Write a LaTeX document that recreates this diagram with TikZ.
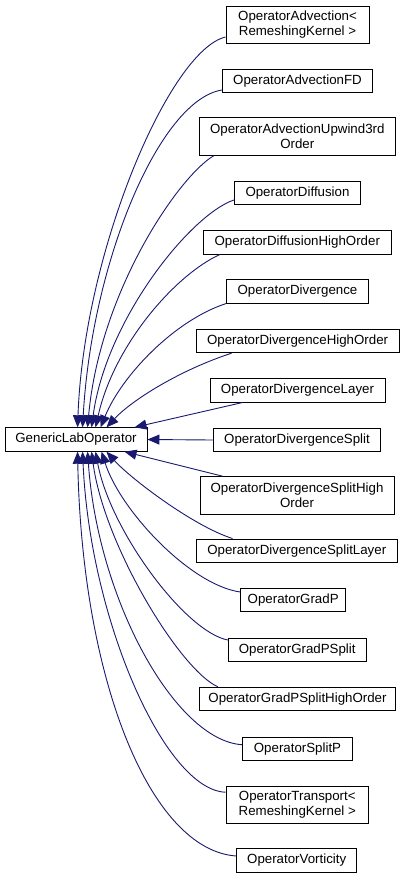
\documentclass[tikz,border=0pt]{standalone}
\usepackage{fontspec}
\setmainfont{Liberation Sans}
\usetikzlibrary{arrows.meta,calc}
\definecolor{edgeblue}{RGB}{25,25,112}
\begin{document}
\begin{tikzpicture}[x=1pt,y=-1pt,
  cls/.style={draw=black,line width=0.9pt,fill=white,inner sep=0pt,align=center,
    font=\fontsize{13.3}{15}\selectfont},
  edge/.style={draw=edgeblue,line width=0.9pt,-{Triangle[length=12pt,width=10pt,fill=edgeblue]}}]
\useasboundingbox (0,0) rectangle (404,879);
% base node
\node[cls,minimum width=142pt,minimum height=23.5pt] (G) at (76,439.5) {GenericLabOperator};
% derived nodes
\node[cls,minimum width=143pt,minimum height=37pt] (n1) at (297.5,24.5) {OperatorAdvection<\\ RemeshingKernel >};
\node[cls,minimum width=150.4pt,minimum height=23.5pt] (n2) at (297.5,81) {OperatorAdvectionFD};
\node[cls,minimum width=196pt,minimum height=37.5pt] (n3) at (297.3,136.5) {OperatorAdvectionUpwind3rd\\Order};
\node[cls,minimum width=126.4pt,minimum height=23.5pt] (n4) at (297.5,193) {OperatorDiffusion};
\node[cls,minimum width=188pt,minimum height=23.5pt] (n5) at (297.3,242.3) {OperatorDiffusionHighOrder};
\node[cls,minimum width=141.6pt,minimum height=23.5pt] (n6) at (297.5,291.3) {OperatorDivergence};
\node[cls,minimum width=203.3pt,minimum height=23.5pt] (n7) at (297.6,341) {OperatorDivergenceHighOrder};
\node[cls,minimum width=175pt,minimum height=23.5pt] (n8) at (297.5,390.3) {OperatorDivergenceLayer};
\node[cls,minimum width=167.4pt,minimum height=23.5pt] (n9) at (297,440) {OperatorDivergenceSplit};
\node[cls,minimum width=194pt,minimum height=37.3pt] (n10) at (297,495.3) {OperatorDivergenceSplitHigh\\Order};
\node[cls,minimum width=201.7pt,minimum height=23.5pt] (n11) at (296.8,550.7) {OperatorDivergenceSplitLayer};
\node[cls,minimum width=105pt,minimum height=23.5pt] (n12) at (293.2,600) {OperatorGradP};
\node[cls,minimum width=137.7pt,minimum height=23.5pt] (n13) at (297.2,650) {OperatorGradPSplit};
\node[cls,minimum width=196.4pt,minimum height=23.5pt] (n14) at (297.5,699) {OperatorGradPSplitHighOrder};
\node[cls,minimum width=110.4pt,minimum height=23.5pt] (n15) at (297.5,748.7) {OperatorSplitP};
\node[cls,minimum width=142.7pt,minimum height=37.3pt] (n16) at (297.3,804.7) {OperatorTransport<\\ RemeshingKernel >};
\node[cls,minimum width=120pt,minimum height=23.5pt] (n17) at (296.7,860.5) {OperatorVorticity};
% arrow tips on the base node
\coordinate (t1) at ($(G.north west)+(73,0)$);
\coordinate (t2) at ($(G.north west)+(78,0)$);
\coordinate (t3) at ($(G.north west)+(83,0)$);
\coordinate (t4) at ($(G.north west)+(87,0)$);
\coordinate (t5) at ($(G.north west)+(91,0)$);
\coordinate (t6) at ($(G.north west)+(96,0)$);
\coordinate (t7) at ($(G.north west)+(102,0)$);
\coordinate (t8) at ($(G.north west)+(130,0)$);
\coordinate (b10) at ($(G.south west)+(120,0)$);
\coordinate (b11) at ($(G.south west)+(102,0)$);
\coordinate (b12) at ($(G.south west)+(97,0)$);
\coordinate (b13) at ($(G.south west)+(91,0)$);
\coordinate (b14) at ($(G.south west)+(87,0)$);
\coordinate (b15) at ($(G.south west)+(83,0)$);
\coordinate (b16) at ($(G.south west)+(78,0)$);
\coordinate (b17) at ($(G.south west)+(73,0)$);
% edges
\draw[edge] ($(n1.west)+(0,12.5)$) .. controls (170,50) and (84,250) .. (t1);
\draw[edge] ($(n2.west)+(0,9)$) .. controls (160,100) and (92,260) .. (t2);
\draw[edge] ($(n3.south west)+(15,0)$) .. controls (180,175) and (100,290) .. (t3);
\draw[edge] ($(n4.west)+(0,7)$) .. controls (190,215) and (106,320) .. (t4);
\draw[edge] ($(n5.south west)+(17,0)$) .. controls (175,275) and (114,345) .. (t5);
\draw[edge] (n6.south west) .. controls (175,320) and (122,375) .. (t6);
\draw[edge] ($(n7.south west)+(36,0)$) .. controls (180,370) and (132,400) .. (t7);
\draw[edge] ($(n8.south west)+(33,0)$) -- (t8);
\draw[edge] (n9.west) -- (G.east);
\draw[edge] ($(n10.north west)+(23,0)$) -- (b10);
\draw[edge] ($(n11.north west)+(37,0)$) .. controls (193,526) and (130,478) .. (b11);
\draw[edge] ($(n12.west)+(0,-8)$) .. controls (190,585) and (120,510) .. (b12);
\draw[edge] ($(n13.west)+(0,-10)$) .. controls (185,632) and (110,530) .. (b13);
\draw[edge] ($(n14.north west)+(19,0)$) .. controls (180,670) and (104,545) .. (b14);
\draw[edge] ($(n15.west)+(0,-4)$) .. controls (175,740) and (98,600) .. (b15);
\draw[edge] ($(n16.west)+(0,-12.5)$) .. controls (165,790) and (90,620) .. (b16);
\draw[edge] ($(n17.west)+(0,-4.5)$) .. controls (150,850) and (82,680) .. (b17);
\end{tikzpicture}
\end{document}
